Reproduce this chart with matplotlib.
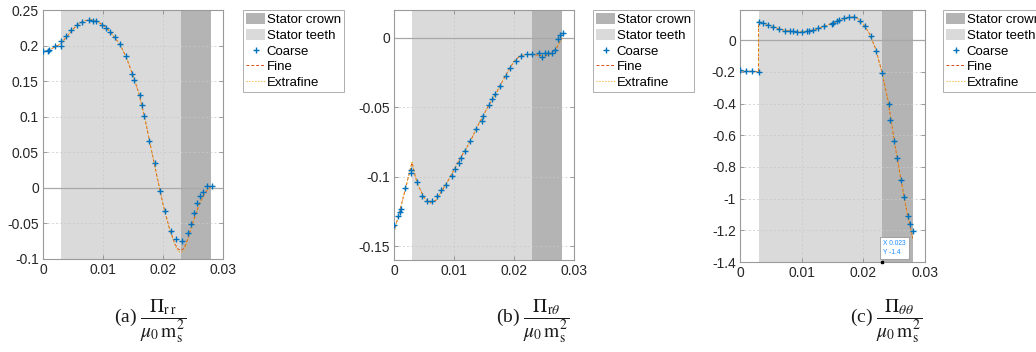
import numpy as np
import matplotlib
matplotlib.use("Agg")
import matplotlib.pyplot as plt
from matplotlib.ticker import FormatStrFormatter

plt.rcParams['font.family'] = ['Liberation Sans', 'DejaVu Sans']
plt.rcParams['mathtext.fontset'] = 'stix'
plt.rcParams['axes.unicode_minus'] = False

# region limits (radial position)
teeth_span = [0.003, 0.023]
crown_span = [0.023, 0.028]

# (a) Pi_rr
a_coarse_x = [0.0000, 0.0008, 0.0010, 0.0020, 0.0030, 0.0030, 0.0039, 0.0047, 0.0056, 0.0065,
              0.0076, 0.0084, 0.0089, 0.0098, 0.0105, 0.0112, 0.0120, 0.0128, 0.0138, 0.0149,
              0.0152, 0.0161, 0.0165, 0.0169, 0.0177, 0.0186, 0.0195, 0.0203, 0.0213, 0.0221,
              0.0231, 0.0241, 0.0246, 0.0252, 0.0257, 0.0262, 0.0266, 0.0273, 0.0281]
a_coarse_y = [0.192, 0.193, 0.194, 0.199, 0.1995, 0.207, 0.214, 0.222, 0.229, 0.2326,
              0.2358, 0.2349, 0.2344, 0.229, 0.224, 0.2186, 0.2116, 0.202, 0.1847, 0.160,
              0.151, 0.130, 0.117, 0.101, 0.066, 0.035, -0.004, -0.033, -0.060, -0.072,
              -0.074, -0.064, -0.051, -0.036, -0.021, -0.011, -0.006, 0.002, 0.002]
a_line_x = [0, 0.001, 0.002, 0.003, 0.004, 0.005, 0.006, 0.007, 0.008, 0.009, 0.010,
            0.011, 0.012, 0.013, 0.014, 0.015, 0.016, 0.017, 0.018, 0.019, 0.020,
            0.021, 0.022, 0.0225, 0.023, 0.0235, 0.024, 0.025, 0.026, 0.027, 0.028]
a_fine_y = [0.191, 0.194, 0.198, 0.203, 0.213, 0.223, 0.231, 0.235, 0.236, 0.234, 0.229,
            0.221, 0.211, 0.199, 0.181, 0.158, 0.132, 0.097, 0.056, 0.016, -0.023,
            -0.055, -0.079, -0.086, -0.088, -0.085, -0.075, -0.048, -0.024, -0.007, 0.002]
a_extra_y = [0.191, 0.194, 0.198, 0.203, 0.213, 0.223, 0.231, 0.235, 0.236, 0.234, 0.229,
             0.221, 0.211, 0.199, 0.181, 0.158, 0.132, 0.097, 0.056, 0.016, -0.023,
             -0.056, -0.081, -0.089, -0.091, -0.088, -0.077, -0.049, -0.024, -0.007, 0.002]

# (b) Pi_rtheta
b_coarse_x = [0, 0.00067, 0.00094, 0.0012, 0.0019, 0.0029, 0.0029, 0.0038, 0.0047, 0.0055,
              0.0064, 0.0072, 0.0079, 0.0086, 0.0096, 0.0101, 0.0108, 0.0112, 0.0118, 0.0127,
              0.0137, 0.0146, 0.0149, 0.0158, 0.0163, 0.0169, 0.0176, 0.0186, 0.0194, 0.0203,
              0.0212, 0.0221, 0.0230, 0.0241, 0.0246, 0.0251, 0.0257, 0.0263, 0.0268, 0.0273,
              0.0277, 0.0281]
b_coarse_y = [-0.135, -0.1285, -0.1257, -0.1233, -0.1078, -0.0951, -0.0975, -0.1037, -0.1137, -0.1173,
              -0.1173, -0.1142, -0.1094, -0.1059, -0.0994, -0.0947, -0.0904, -0.0863, -0.0815, -0.0744,
              -0.0660, -0.0601, -0.0560, -0.0482, -0.0441, -0.0403, -0.0346, -0.0274, -0.0215, -0.0165,
              -0.0129, -0.0119, -0.0119, -0.0112, -0.0141, -0.0112, -0.0107, -0.0107, -0.0088, -0.0012,
              0.0019, 0.0036]
b_line_x = [0, 0.001, 0.002, 0.003, 0.0035, 0.004, 0.005, 0.006, 0.007, 0.008, 0.009, 0.010,
            0.011, 0.012, 0.013, 0.014, 0.015, 0.016, 0.017, 0.018, 0.019, 0.020,
            0.021, 0.022, 0.023, 0.024, 0.025, 0.026, 0.027, 0.028]
b_fine_y = [-0.140, -0.124, -0.107, -0.090, -0.099, -0.106, -0.115, -0.119, -0.117, -0.110, -0.103, -0.095,
            -0.087, -0.080, -0.072, -0.063, -0.055, -0.047, -0.040, -0.032, -0.024, -0.017,
            -0.013, -0.012, -0.012, -0.0125, -0.013, -0.012, -0.008, 0.000]
b_extra_y = [-0.140, -0.124, -0.107, -0.089, -0.099, -0.106, -0.115, -0.119, -0.117, -0.110, -0.103, -0.095,
             -0.087, -0.080, -0.072, -0.063, -0.055, -0.047, -0.040, -0.032, -0.024, -0.017,
             -0.013, -0.012, -0.012, -0.0125, -0.013, -0.012, -0.008, 0.000]

# (c) Pi_thetatheta
c_coarse_x = [0, 0.0009, 0.0019, 0.0031, 0.0031, 0.0038, 0.0046, 0.0054, 0.0064, 0.0073,
              0.0081, 0.0086, 0.0093, 0.0100, 0.0108, 0.0112, 0.0118, 0.0126, 0.0136, 0.0149,
              0.0150, 0.0157, 0.0161, 0.0168, 0.0177, 0.0185, 0.0195, 0.0203, 0.0212, 0.0221,
              0.0230, 0.0241, 0.0244, 0.0250, 0.0255, 0.0261, 0.0266, 0.0272, 0.0276, 0.0280]
c_coarse_y = [-0.190, -0.1945, -0.1945, -0.201, 0.112, 0.106, 0.095, 0.0846, 0.070, 0.059,
              0.055, 0.055, 0.053, 0.053, 0.055, 0.057, 0.063, 0.074, 0.0867, 0.101,
              0.108, 0.1226, 0.129, 0.137, 0.144, 0.144, 0.1226, 0.091, 0.0275, -0.0677,
              -0.209, -0.400, -0.507, -0.638, -0.744, -0.882, -0.992, -1.11, -1.163, -1.205]
c_line_x = [0, 0.001, 0.002, 0.003, 0.003, 0.004, 0.005, 0.006, 0.007, 0.008, 0.009, 0.010,
            0.011, 0.012, 0.013, 0.014, 0.015, 0.016, 0.017, 0.018, 0.0185, 0.019, 0.020,
            0.021, 0.022, 0.023, 0.024, 0.025, 0.026, 0.027, 0.028]
c_fine_y = [-0.195, -0.196, -0.197, -0.200, 0.115, 0.104, 0.090, 0.076, 0.064, 0.057, 0.053, 0.053,
            0.056, 0.065, 0.078, 0.092, 0.108, 0.125, 0.138, 0.145, 0.146, 0.139, 0.100,
            0.040, -0.055, -0.200, -0.380, -0.630, -0.860, -1.070, -1.250]
c_extra_y = c_fine_y

captions = [r'(a) $\dfrac{\Pi_{\mathrm{r\,r}}}{\mu_0\,\mathrm{m}_\mathrm{s}^2}$',
            r'(b) $\dfrac{\Pi_{\mathrm{r}\theta}}{\mu_0\,\mathrm{m}_\mathrm{s}^2}$',
            r'(c) $\dfrac{\Pi_{\theta\theta}}{\mu_0\,\mathrm{m}_\mathrm{s}^2}$']

W, H = 1036, 352


def draw_panel(rect, leg_x, coarse_x, coarse_y, line_x, fine_y, extra_y, ylim, yticks):
    """draw one stress panel with the stator regions and the three meshes

    Args:
        rect (list): axes box in pixels [left, top, right, bottom]
        leg_x (int): left pixel of the legend box
        ylim (tuple): y limits
        yticks (list): y tick positions
    """
    l, t, r, b = rect
    ax = fig.add_axes([l / W, 1 - b / H, (r - l) / W, (b - t) / H])
    ax.axvspan(crown_span[0], crown_span[1], color='#b4b4b4', lw=0, label='Stator crown')
    ax.axvspan(teeth_span[0], teeth_span[1], color='#dadada', lw=0, label='Stator teeth')
    ax.axhline(0, color='#a8a8a8', lw=0.9, zorder=1.6)
    ax.plot(coarse_x, coarse_y, '+', color='#0072BD', ms=5, mew=1.0, label='Coarse', zorder=3)
    ax.plot(line_x, fine_y, '--', color='#D95319', lw=0.7, dashes=(3, 2), label='Fine')
    ax.plot(line_x, extra_y, ':', color='#EDB120', lw=0.8, label='Extrafine')

    ax.set_xlim(0, 0.03)
    ax.set_ylim(*ylim)
    ax.set_xticks([0, 0.01, 0.02, 0.03])
    ax.set_yticks(yticks)
    ax.xaxis.set_major_formatter(FormatStrFormatter('%g'))
    ax.yaxis.set_major_formatter(FormatStrFormatter('%g'))
    ax.tick_params(direction='in', length=3, width=0.6, top=True, right=True,
                   labelsize=10, colors='#8c8c8c', labelcolor='#262626', pad=3)
    ax.grid(True, ls='--', lw=0.5, color='#c8c8c8', dashes=(3, 3))
    for s in ax.spines.values():
        s.set_color('#9a9a9a')
        s.set_linewidth(0.8)

    leg = ax.legend(loc='upper left', bbox_to_anchor=(leg_x / W, 1 - 10 / H),
                    bbox_transform=fig.transFigure, fontsize=9.5, frameon=True,
                    fancybox=False, edgecolor='#9a9a9a', borderpad=0.2,
                    labelspacing=0.22, handlelength=1.5, handleheight=0.9,
                    handletextpad=0.1, borderaxespad=0)
    leg.get_frame().set_linewidth(0.7)
    return ax


fig = plt.figure(figsize=(W / 100, H / 100), dpi=100)

draw_panel([43, 10, 223, 259], 243, a_coarse_x, a_coarse_y, a_line_x, a_fine_y, a_extra_y,
           (-0.1, 0.25), [-0.1, -0.05, 0, 0.05, 0.1, 0.15, 0.2, 0.25])
draw_panel([394, 10, 574, 260], 593, b_coarse_x, b_coarse_y, b_line_x, b_fine_y, b_extra_y,
           (-0.16, 0.02), [-0.15, -0.1, -0.05, 0])
ax_c = draw_panel([740, 10, 925, 262], 943, c_coarse_x, c_coarse_y, c_line_x, c_fine_y, c_extra_y,
                  (-1.4, 0.19), [-1.4, -1.2, -1, -0.8, -0.6, -0.4, -0.2, 0])

# data tip left on the last panel
ax_c.plot(0.023, -1.4, 's', color='k', ms=2, clip_on=False, zorder=5)
ax_c.text(0.0232, -1.35, 'X 0.023\nY -1.4', fontsize=4.8, color='#1a8cff',
          linespacing=1.4, zorder=5,
          bbox=dict(boxstyle='square,pad=0.5', fc='white', ec='#8a8a8a', lw=0.5))

# sub-figure captions
for cx, cap in zip([150, 533, 886], captions):
    fig.text(cx / W, 1 - 321 / H, cap, ha='center', va='center', fontsize=14,
             family=['Liberation Serif', 'DejaVu Serif'], color='#1a1a1a')

fig.savefig('out.png', dpi=100)
